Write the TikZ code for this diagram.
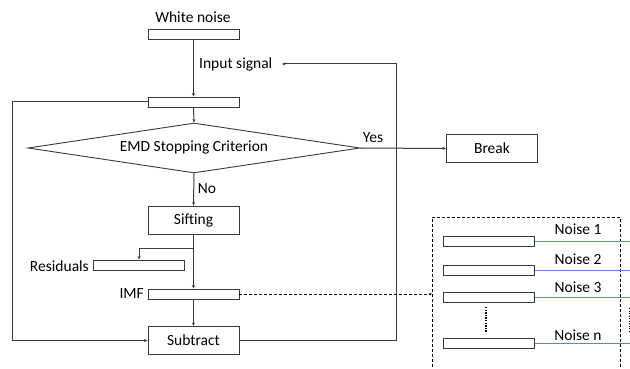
\documentclass[tikz,border=0pt]{standalone}
\usepackage{fontspec}
\setmainfont{Carlito}
\usetikzlibrary{shapes.geometric,arrows.meta}
\definecolor{linegray}{HTML}{3A3A3A}
\definecolor{noiseblue}{HTML}{5B86C9}
\tikzset{
  flat/.style={draw=linegray, line width=0.9pt, minimum width=91pt, minimum height=10pt, inner sep=0pt},
  procbox/.style={draw=linegray, line width=0.9pt, minimum width=91pt, minimum height=28pt, inner sep=0pt, font=\fontsize{15.5}{17}\selectfont},
  lbl/.style={inner sep=0pt, font=\fontsize{15.5}{17}\selectfont},
  conn/.style={draw=linegray, line width=1pt},
  arr/.style={conn, -{Stealth[length=3.5pt,width=3pt]}},
  dashline/.style={draw=black, line width=0.9pt, dash pattern=on 3pt off 2pt},
  noiseline/.style={draw=noiseblue, line width=1pt}
}
\begin{document}
\begin{tikzpicture}[x=1pt, y=-1pt]
\useasboundingbox (0,0) rectangle (630,369);

% main column
\node[lbl] (wnlbl) at (193,17) {White noise};
\node[flat] (wn) at (193.5,34) {};
\node[flat] (inbox) at (193.5,102) {};
\node[lbl, anchor=west] (insig) at (199,64) {Input signal};
\node[diamond, draw=linegray, line width=0.9pt, minimum width=332pt, minimum height=50pt, inner sep=0pt, aspect=6.6] (dia) at (194,148) {};
\node[lbl] at (dia.center) {EMD Stopping Criterion};
\node[procbox] (brk) at (492,148.5) {Break};
\node[lbl] (yes) at (373,138) {Yes};
\node[lbl] (no) at (207,189) {No};
\node[procbox] (sif) at (193.5,220) {Sifting};
\node[flat] (res) at (139,265) {};
\node[lbl, anchor=east] (reslbl) at (89,266) {Residuals};
\node[flat] (imf) at (193.5,294) {};
\node[lbl, anchor=east] (imflbl) at (144,294) {IMF};
\node[procbox] (sub) at (193.5,340.5) {Subtract};

% helper points of the loops
\coordinate (fbR) at (396,64);
\coordinate (fbEnd) at (282,64);
\coordinate (lp) at (12,102);
\coordinate (br) at (193.5,248);

% connectors
\draw[arr] (wn.south) -- (inbox.north);
\draw[arr] (inbox.south) -- (dia.north);
\draw[arr] (dia.east) -- (brk.west);
\draw[arr] (dia.south) -- (sif.north);
\draw[arr] (sif.south) -- (imf.north);
\draw[arr] (br) -| (res.north);
\draw[arr] (imf.south) -- (sub.north);
\draw[arr] (inbox.west) -- (lp) |- (sub.west);
\draw[arr] (sub.east) -| (fbR) -- (fbEnd);

% noise bank
\coordinate (dbBL) at (432,372);
\coordinate (dbTL) at (432,217);
\coordinate (dbTR) at (620,217);
\coordinate (dbBR) at (620,372);
\draw[dashline] (dbBL) -- (dbTL) -- (dbTR) -- (dbBR);
\coordinate (dbIn) at (432,294);
\draw[dashline, -{Stealth[length=3pt,width=2.6pt]}] (imf.east) -- (dbIn);

\node[flat] (n1) at (489,241) {};
\node[flat] (n2) at (489,270) {};
\node[flat] (n3) at (489,297) {};
\node[flat] (nn) at (489,343) {};
\coordinate (e1) at (632,241);
\coordinate (e2) at (632,270);
\coordinate (e3) at (632,297);
\coordinate (en) at (632,343);
\draw[noiseline] (n1.east) -- (e1);
\draw[noiseline] (n2.east) -- (e2);
\draw[noiseline] (n3.east) -- (e3);
\draw[noiseline] (nn.east) -- (en);
\node[lbl] (l1) at (578,229) {Noise 1};
\node[lbl] (l2) at (578,259) {Noise 2};
\node[lbl] (l3) at (578,287) {Noise 3};
\node[lbl] (ln) at (578,335) {Noise n};
\draw[line width=1.3pt, dash pattern=on 1.3pt off 1.3pt] (486,307) -- (486,333);
\draw[line width=1pt, dash pattern=on 1pt off 1.5pt] (629.5,308) -- (629.5,333);
\end{tikzpicture}
\end{document}
